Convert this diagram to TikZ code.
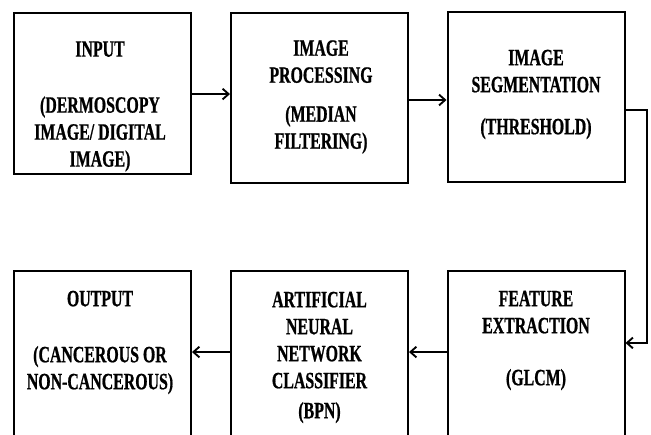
\documentclass[tikz,border=0pt]{standalone}
\usepackage{fontspec}
\setmainfont{Liberation Serif}
\newfontfamily\blkfont[FakeStretch=0.68,FakeBold=0.8]{Liberation Serif}
\usetikzlibrary{arrows.meta,positioning}

\begin{document}
\begin{tikzpicture}[x=0.75pt,y=-0.75pt,>={Straight Barb[length=4.5pt,width=8pt]},blk/.style={draw,line width=1.5pt,minimum width=132.75pt,inner sep=0pt},lbl/.style={align=center,inner sep=0pt,font=\blkfont\bfseries\fontsize{17.5}{20.25}\selectfont,text=black},flow/.style={->,line width=1.4pt}]
\useasboundingbox (0,0) rectangle (651,435);\clip (0,0) rectangle (651,435);
\node[blk,minimum height=120.75pt] (inp) at (102.5,93.5) {};\node[blk,minimum height=127.5pt] (proc) at (319.5,98) {};\node[blk,minimum height=127.5pt] (seg) at (536,97.5) {};
\node[blk,minimum height=141.75pt] (outp) at (102.5,365.5) {};\node[blk,minimum height=141.75pt] (ann) at (319.5,365.5) {};\node[blk,minimum height=141.75pt] (feat) at (536,365.5) {};
\node[lbl] (inptxt) at (100,106.5) {INPUT\\[21.75pt](DERMOSCOPY\\IMAGE/ DIGITAL\\IMAGE)};
\node[lbl] (proctxt) at (321,97) {IMAGE\\PROCESSING\\[9pt](MEDIAN\\FILTERING)};
\node[lbl] (segtxt) at (536,94.5) {IMAGE\\SEGMENTATION\\[11.25pt](THRESHOLD)};
\node[lbl] (outptxt) at (100,342.5) {OUTPUT\\[21.75pt](CANCEROUS OR\\NON-CANCEROUS)};
\node[lbl] (anntxt) at (319.5,357.5) {ARTIFICIAL\\NEURAL\\NETWORK\\CLASSIFIER\\[2.25pt](BPN)};
\node[lbl] (feattxt) at (536,340.5) {FEATURE\\EXTRACTION\\[18.75pt](GLCM)};
% top row, left to right
\draw[flow] ([yshift=-0.4pt]inp.east) -- ([yshift=-0.4pt]inp.east -| proc.west);\draw[flow] ([yshift=-1.5pt]proc.east) -- ([yshift=-1.5pt]proc.east -| seg.west);
% down the right side
\coordinate (bend) at (647,110);
\draw[flow] ([yshift=-9.4pt]seg.east) -- (bend) |- ([yshift=16.9pt]feat.east);
% bottom row, right to left
\draw[flow] ([yshift=10.1pt]feat.west) -- ([yshift=10.1pt]ann.east);\draw[flow] ([yshift=10.1pt]ann.west) -- ([yshift=10.1pt]outp.east);
\end{tikzpicture}
\end{document}
